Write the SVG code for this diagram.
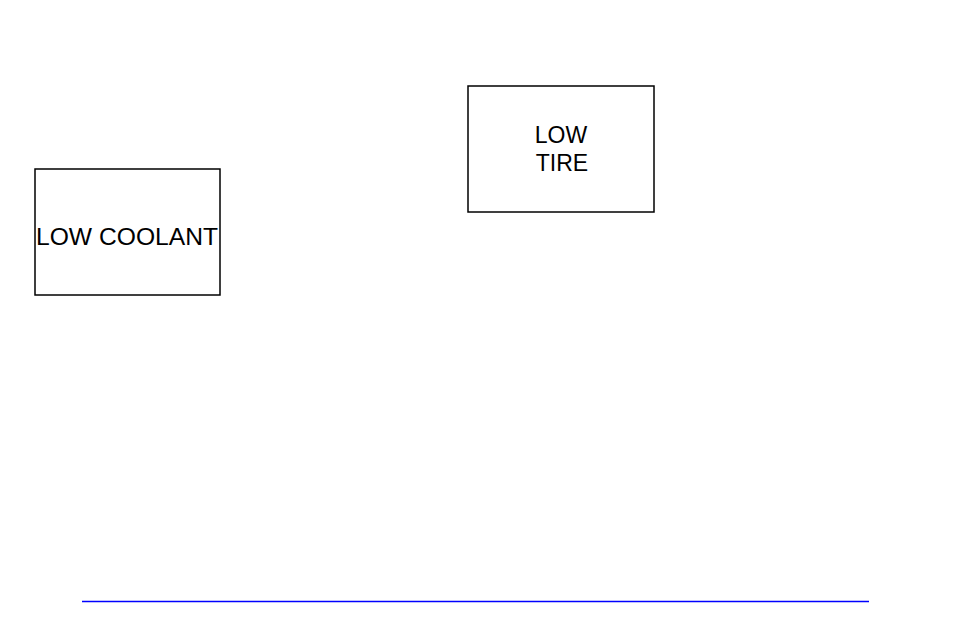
<svg xmlns="http://www.w3.org/2000/svg" width="954" height="636" viewBox="0 0 954 636">
<style>
.box{fill:#fff;stroke:#000;stroke-width:1.5}
.t{font-family:"Liberation Sans",Arial,sans-serif;font-size:23px;fill:#000;text-anchor:middle}
</style>
<rect width="954" height="636" fill="#fff"/>
<g id="low-coolant"><rect class="box" x="35" y="169" width="185" height="126"/><text class="t" x="127" y="245" textLength="182" lengthAdjust="spacingAndGlyphs">LOW COOLANT</text></g>
<g id="low-tire"><rect class="box" x="468" y="86" width="186" height="126"/><text class="t" x="561" y="143">LOW</text><text class="t" x="562" y="171">TIRE</text></g>
<g id="connectors"></g>
<line x1="82" y1="601.5" x2="869" y2="601.5" stroke="#0000ff" stroke-width="1.5"/>
</svg>
